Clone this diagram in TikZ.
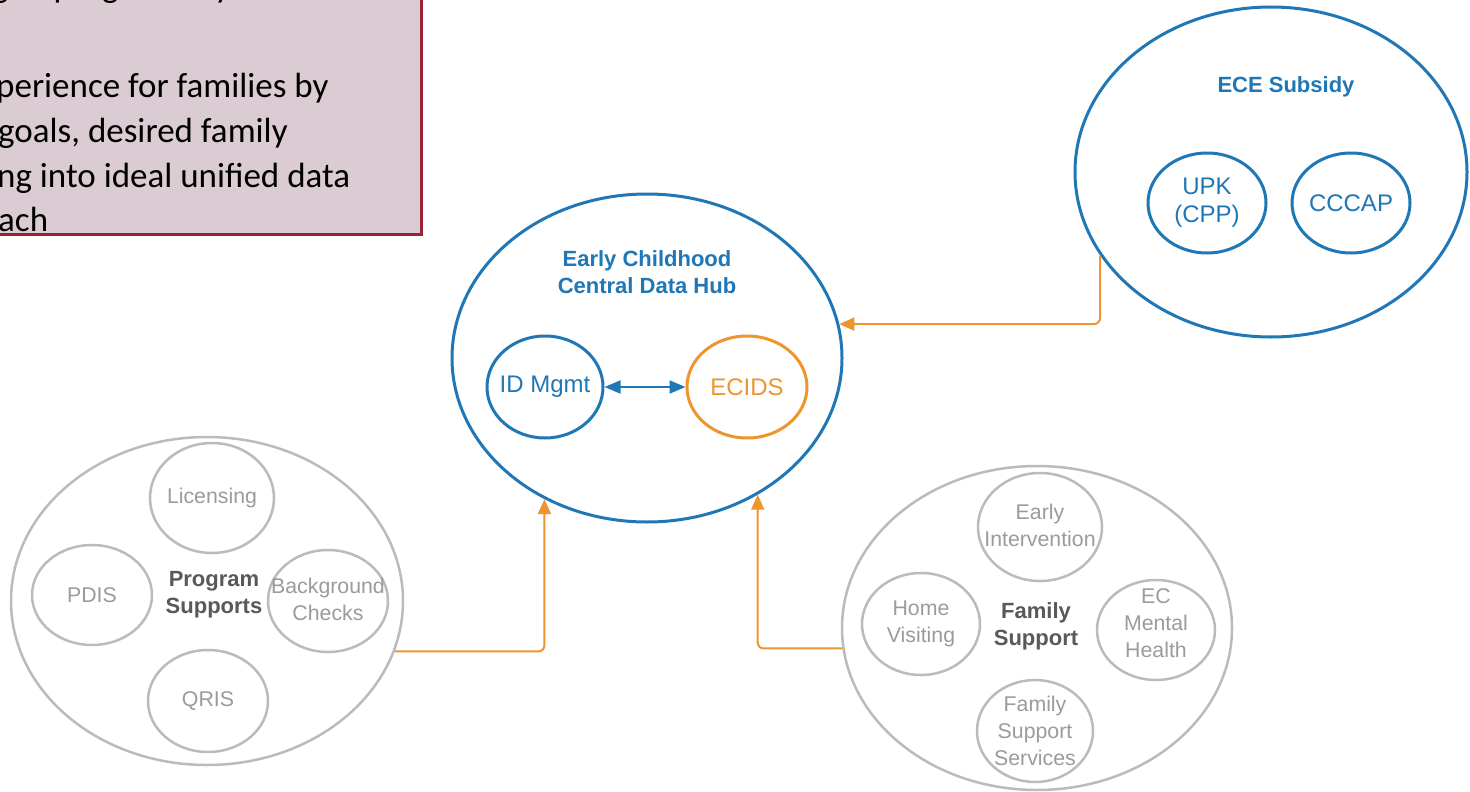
\documentclass[tikz,border=0pt]{standalone}
\usepackage{fontspec}
\setmainfont{Liberation Sans}
\newfontfamily\boxfont{Carlito}
\usetikzlibrary{shapes.geometric,arrows.meta}
\definecolor{cblue}{HTML}{1F77B6}
\definecolor{corange}{HTML}{EE9530}
\definecolor{cgrey}{HTML}{BBBBBB}
\definecolor{cgtext}{HTML}{9B9B9B}
\definecolor{cdark}{HTML}{595959}
\definecolor{boxfill}{HTML}{DACCD2}
\definecolor{boxedge}{HTML}{9B2335}
\begin{document}
\begin{tikzpicture}[x=1pt,y=-1pt,
  ell/.style 2 args={ellipse, inner sep=0pt, minimum width=#1, minimum height=#2},
  blueell/.style={draw=cblue, line width=3pt},
  orangeell/.style={draw=corange, line width=3pt},
  greyell/.style={draw=cgrey, line width=2.5pt},
  btitle/.style={font=\bfseries\fontsize{22}{27}\selectfont, text=cblue, align=center, inner sep=0pt},
  dtitle/.style={font=\bfseries\fontsize{22}{27}\selectfont, text=cdark, align=center, inner sep=0pt},
  btext/.style={font=\fontsize{24}{28}\selectfont, text=cblue, align=center, inner sep=0pt},
  gtext/.style={font=\fontsize{21.3}{27}\selectfont, text=cgtext, align=center, inner sep=0pt},
  boxline/.style={font=\boxfont\fontsize{35}{46}\selectfont, anchor=base west, inner sep=0pt, text=black},
  conn/.style={draw=corange, line width=2pt, rounded corners=6pt, -{Triangle[length=15pt,width=13pt]}},
  dconn/.style={draw=cblue, line width=2pt, {Triangle[length=16pt,width=13pt]}-{Triangle[length=16pt,width=13pt]}}
]
\useasboundingbox (0,0) rectangle (1470,792);
\clip (0,0) rectangle (1470,792);
\fill[white] (0,0) rectangle (1470,792);

% top-left text box (cut off)
\draw[draw=boxedge, fill=boxfill, line width=3pt] (-10,-10) rectangle (421,234);
\node[boxline] (bt1) at (-8,-2) {g of programs by};
\node[boxline] (bt2) at (-4,97) {perience for families by};
\node[boxline] (bt3) at (-2,142) {goals, desired family};
\node[boxline] (bt4) at (-3,187) {ng into ideal unified data};
\node[boxline] (bt5) at (-2,231) {ach};

% central hub
\node[ell={390pt}{328pt}, blueell] (hub) at (647,358) {};
\node[btitle] (hubT) at (647,272) {Early Childhood\\Central Data Hub};
\node[ell={116pt}{102pt}, blueell] (idm) at (545,387) {};
\node[btext] (idmT) at (idm) {ID Mgmt};
\node[ell={120pt}{102pt}, orangeell] (ecids) at (747,387) {};
\node[btext, text=corange] (ecidsT) at (ecids) {ECIDS};
\draw[dconn] (idm) -- (ecids);

% ECE subsidy
\node[ell={392pt}{330pt}, blueell] (ece) at (1271,172) {};
\node[btitle] (eceT) at (1286,87) {ECE Subsidy};
\node[ell={118pt}{100pt}, blueell] (upk) at (1207,203) {};
\node[btext] (upkT) at (upk) {UPK\\(CPP)};
\node[ell={118pt}{100pt}, blueell] (cccap) at (1351,203) {};
\node[btext] (cccapT) at (cccap) {CCCAP};

% program supports
\node[ell={392pt}{328pt}, greyell] (ps) at (207,601) {};
\node[dtitle] (psT) at (214,595) {Program\\Supports};
\node[ell={124pt}{110pt}, greyell] (lic) at (212,498) {};
\node[gtext] (licT) at (lic) {Licensing};
\node[ell={120pt}{100pt}, greyell] (pdis) at (92,595) {};
\node[gtext] (pdisT) at (pdis) {PDIS};
\node[ell={120pt}{102pt}, greyell] (bgc) at (328,601) {};
\node[gtext] (bgcT) at (328,599) {Background\\Checks};
\node[ell={120pt}{102pt}, greyell] (qris) at (208,701) {};
\node[gtext] (qrisT) at (qris) {QRIS};

% family support
\node[ell={390pt}{324pt}, greyell] (fs) at (1037,628) {};
\node[dtitle] (fsT) at (1036,626) {Family\\Support};
\node[ell={124pt}{108pt}, greyell] (ei) at (1040,527) {};
\node[gtext] (eiT) at (1040,525) {Early\\Intervention};
\node[ell={118pt}{102pt}, greyell] (hv) at (921,624) {};
\node[gtext] (hvT) at (hv) {Home\\Visiting};
\node[ell={118pt}{100pt}, greyell] (ecmh) at (1156,630) {};
\node[gtext] (ecmhT) at (1156,623) {EC\\Mental\\Health};
\node[ell={116pt}{102pt}, greyell] (fss) at (1035,731) {};
\node[gtext] (fssT) at (fss) {Family\\Support\\Services};

% connectors
\draw[conn] (ps.-15) -| (hub.234);
\draw[conn] (fs.186) -| (hub.-51);
\draw[conn] (ece.206) |- (hub.10);
\end{tikzpicture}
\end{document}
